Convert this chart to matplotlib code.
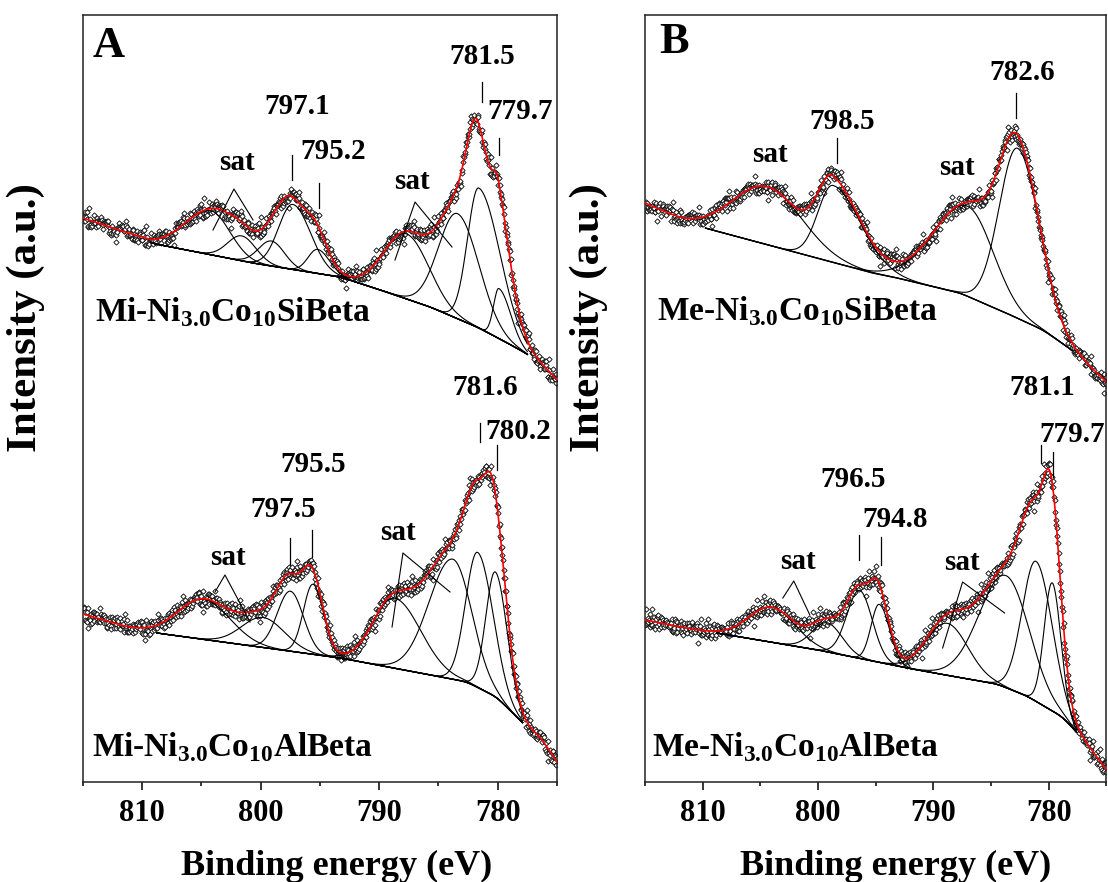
import numpy as np
import matplotlib
matplotlib.use('Agg')
import matplotlib.pyplot as plt
from matplotlib.ticker import MultipleLocator

plt.rcParams['font.family'] = 'Liberation Serif'
plt.rcParams['font.weight'] = 'bold'
plt.rcParams['mathtext.fontset'] = 'custom'
plt.rcParams['mathtext.rm'] = 'Liberation Serif:bold'
plt.rcParams['mathtext.bf'] = 'Liberation Serif:bold'

# shared scatter residuals (read as band width around the envelope)
scatter_res = [0.31, -0.72, 0.55, -0.12, 0.88, -0.47, 0.05, -0.93, 0.64, 0.22,
               -0.35, 0.79, -0.61, 0.14, -0.08, 0.97, -0.53, 0.41, -0.27, 0.66,
               -0.84, 0.19, 0.48, -0.69, 0.02, 0.73, -0.41, -0.15, 0.58, -0.98,
               0.36, 0.11, -0.57, 1.62, -0.24, 0.45, -0.76, 0.09, 0.62, -0.33,
               0.91, -0.05, -0.66, 0.27, 0.52, -0.88, 0.17, -0.44, 0.75, -1.71,
               0.39, -0.71, 0.86, -0.02, -0.59, 0.24, 0.68, -0.37, 0.12, -0.81,
               0.47, 0.03, -0.28, 0.94, -0.64, 0.33, -0.11, 0.57, -0.49, 0.81,
               -0.22, 0.06, -0.90, 0.43, 0.71, -0.31, 1.45, -0.55, 0.99, -0.17,
               0.29, -0.74, 0.51, -0.06, 0.63, -0.42, 0.21, -0.87, 0.38, 0.77,
               -0.26, 0.08, -0.63, 0.46, -0.14, 0.69, -0.51]
res_amp = 7.5

# ---------- panel A, top: Mi-Ni3.0Co10SiBeta ----------
at_bg_e = [815, 810, 809.3, 800.7, 793.3, 789.9, 785.7, 781.75, 779.5, 777.5, 776, 775]
at_bg_h = [664, 644, 639, 619, 605, 592, 575, 555, 541, 528, 514, 502]
at_pk_c = [779.9, 781.6, 783.4, 787.7, 795.2, 797.3, 799.1, 801.6, 804.2]
at_pk_h = [50, 140, 105, 65, 24, 65, 25, 25, 44]
at_pk_hi = [0.45, 0.95, 1.6, 1.9, 0.8, 1.2, 1.1, 1.2, 2.2]
at_pk_lo = [1.0, 1.8, 1.8, 1.9, 1.0, 1.5, 1.1, 1.2, 1.6]
at_fit = (777.5, 809.3)

# ---------- panel A, bottom: Mi-Ni3.0Co10AlBeta ----------
ab_bg_e = [815, 811, 808.8, 793.3, 784.3, 782.6, 780.1, 777.9, 776.4, 775]
ab_bg_h = [268, 254, 249, 224, 204, 200, 185, 159, 145, 120]
ab_pk_c = [780.2, 781.7, 783.8, 788.7, 795.6, 797.5, 799.8, 804.8]
ab_pk_h = [125, 135, 120, 70, 70, 60, 30, 40]
ab_pk_hi = [0.8, 1.0, 2.0, 1.8, 0.8, 1.1, 1.8, 2.2]
ab_pk_lo = [1.0, 1.3, 1.6, 2.2, 0.9, 1.1, 1.8, 2.2]
ab_fit = (777.9, 808.8)

# ---------- panel B, top: Me-Ni3.0Co10SiBeta ----------
bt_bg_e = [815, 811.5, 809.8, 795.3, 793.5, 787.7, 783.7, 780.5, 778, 775]
bt_bg_h = [679, 660, 654, 609, 605, 589, 569, 552, 532, 500]
bt_pk_c = [782.7, 787.0, 798.7, 804.4]
bt_pk_h = [170, 90, 77, 58]
bt_pk_hi = [1.6, 3.0, 1.3, 3.0]
bt_pk_lo = [1.9, 2.2, 2.4, 3.0]
bt_fit = (778.0, 809.8)

# ---------- panel B, bottom: Me-Ni3.0Co10AlBeta ----------
bb_bg_e = [815, 811, 808.8, 800, 792.3, 788, 784.5, 781.9, 778.8, 777.6, 776.5, 775]
bb_bg_h = [262, 253, 249, 232, 214, 205, 198, 186, 165, 150, 135, 112]
bb_pk_c = [779.7, 781.1, 783.7, 788.8, 794.7, 796.4, 799.2, 804.0]
bb_pk_h = [128, 140, 112, 52, 58, 68, 29, 35]
bb_pk_hi = [0.7, 1.2, 2.3, 1.8, 0.7, 1.1, 1.3, 2.0]
bb_pk_lo = [0.75, 1.4, 2.0, 1.8, 0.9, 1.1, 1.3, 2.0]
bb_fit = (777.6, 808.8)

# peak labels: (text, E, h)
a_labels = [("781.5", 781.33, 825), ("779.7", 778.1, 770), ("797.1", 796.94, 775),
            ("795.2", 793.9, 730), ("sat", 802.0, 719), ("sat", 787.24, 700),
            ("781.6", 781.08, 494), ("780.2", 778.29, 450), ("795.5", 795.59, 417),
            ("797.5", 798.12, 372), ("sat", 802.76, 324), ("sat", 788.42, 349)]
b_labels = [("782.6", 782.27, 809), ("798.5", 797.94, 760), ("sat", 804.18, 727),
            ("sat", 787.99, 714), ("781.1", 780.54, 494), ("779.7", 777.94, 447),
            ("796.5", 796.99, 402), ("794.8", 793.35, 362), ("sat", 801.75, 320),
            ("sat", 787.55, 319)]
# marker lines: (E, h_top, h_bottom)
a_marks = [(781.33, 800, 780), (779.9, 744, 727), (797.36, 727, 702), (795.08, 699, 674),
           (781.5, 459, 440), (780.06, 437, 412), (797.53, 344, 317), (795.68, 352, 325)]
b_marks = [(782.8, 789, 764), (798.38, 744, 719), (780.63, 437, 419), (779.59, 430, 405),
           (796.47, 347, 322), (794.57, 345, 317)]
# sat carets: (E_left, h_left, E_apex, h_apex, E_right, h_right)
a_carets = [(804.03, 652, 802.26, 693, 800.65, 662), (788.67, 622, 786.98, 680, 783.86, 635),
            (803.86, 290, 803.02, 307, 800.9, 260), (788.92, 255, 788.0, 329, 784.03, 290)]
b_carets = [(803.05, 284, 802.1, 301, 800.71, 267), (789.2, 234, 787.47, 300, 783.83, 269)]

energy = np.arange(815.0, 774.97, -0.05)


def peak(e, c, h, s_hi, s_lo):
    s = np.where(e >= c, s_hi, s_lo)
    return h * np.exp(-0.5 * ((e - c) / s) ** 2)


def smooth_bg(bg_e, bg_h, w=41):
    order = np.argsort(bg_e)
    raw = np.interp(energy, np.array(bg_e)[order], np.array(bg_h)[order])
    k = np.hanning(w)
    k = k / k.sum()
    padded = np.pad(raw, w // 2, mode='reflect', reflect_type='odd')
    return np.convolve(padded, k, mode='valid')


def spectrum(ax, bg_e, bg_h, pk_c, pk_h, pk_hi, pk_lo, fit, stride, off):
    bg = smooth_bg(bg_e, bg_h)
    comps = [peak(energy, c, h, a, b) for c, h, a, b in zip(pk_c, pk_h, pk_hi, pk_lo)]
    env = bg + np.sum(comps, axis=0)
    idx = (np.arange(len(energy)) * stride + off) % len(scatter_res)
    pts = env + res_amp * np.array(scatter_res)[idx]
    ax.plot(energy, pts, ls='none', marker='D', ms=2.7, mfc='white', mec='black',
            mew=0.6, zorder=2)
    inside = (energy >= fit[0]) & (energy <= fit[1])
    for comp in comps:
        ax.plot(energy[inside], bg[inside] + comp[inside], color='black', lw=0.8, zorder=3)
    ax.plot(energy[inside], bg[inside], color='black', lw=1.0, zorder=3)
    ax.plot(energy, env, color='red', lw=1.2, zorder=4)


fig = plt.figure(figsize=(11.08, 8.82), dpi=100)
ax_a = fig.add_axes([0.0749, 0.1134, 0.4278, 0.8696])
ax_b = fig.add_axes([0.5821, 0.1134, 0.4165, 0.8696])

spectrum(ax_a, at_bg_e, at_bg_h, at_pk_c, at_pk_h, at_pk_hi, at_pk_lo, at_fit, 13, 0)
spectrum(ax_a, ab_bg_e, ab_bg_h, ab_pk_c, ab_pk_h, ab_pk_hi, ab_pk_lo, ab_fit, 29, 11)
spectrum(ax_b, bt_bg_e, bt_bg_h, bt_pk_c, bt_pk_h, bt_pk_hi, bt_pk_lo, bt_fit, 41, 5)
spectrum(ax_b, bb_bg_e, bb_bg_h, bb_pk_c, bb_pk_h, bb_pk_hi, bb_pk_lo, bb_fit, 53, 23)

for ax, labels, marks, carets in [(ax_a, a_labels, a_marks, a_carets),
                                  (ax_b, b_labels, b_marks, b_carets)]:
    for txt, e, h in labels:
        ax.text(e, h, txt, ha='center', va='center', fontsize=21, fontweight='bold',
                clip_on=False, zorder=5)
    for e, h0, h1 in marks:
        ax.plot([e, e], [h0, h1], color='black', lw=0.9, zorder=5)
    for el, hl, ea, ha, er, hr in carets:
        ax.plot([el, ea, er], [hl, ha, hr], color='black', lw=0.8, zorder=5)

    ax.set_xlim(815, 775)
    ax.set_ylim(100, 867)
    ax.xaxis.set_major_locator(MultipleLocator(10))
    ax.xaxis.set_minor_locator(MultipleLocator(5))
    ax.tick_params(axis='x', which='major', direction='out', length=6, width=1.1,
                   labelsize=22, pad=6)
    ax.tick_params(axis='x', which='minor', direction='out', length=3, width=1.1)
    ax.tick_params(axis='y', left=False, labelleft=False)
    for sp in ax.spines.values():
        sp.set_linewidth(1.1)
        sp.set_edgecolor('#222222')
    ax.set_xlabel('Binding energy (eV)', fontsize=26, fontweight='bold')
    ax.set_ylabel('Intensity (a.u.)', fontsize=31, fontweight='bold')
    ax.yaxis.set_label_coords(-0.08, 0.605)

ax_a.xaxis.set_label_coords(0.536, -0.089)
ax_b.xaxis.set_label_coords(0.543, -0.089)

ax_a.text(0.021, 0.945, 'A', transform=ax_a.transAxes, fontsize=32, fontweight='bold')
ax_b.text(0.032, 0.950, 'B', transform=ax_b.transAxes, fontsize=32, fontweight='bold')
ax_a.text(0.025, 0.601, r'Mi-Ni$_{\mathbf{3.0}}$Co$_{\mathbf{10}}$SiBeta',
          transform=ax_a.transAxes, fontsize=24, fontweight='bold')
ax_a.text(0.019, 0.033, r'Mi-Ni$_{\mathbf{3.0}}$Co$_{\mathbf{10}}$AlBeta',
          transform=ax_a.transAxes, fontsize=24, fontweight='bold')
ax_b.text(0.026, 0.602, r'Me-Ni$_{\mathbf{3.0}}$Co$_{\mathbf{10}}$SiBeta',
          transform=ax_b.transAxes, fontsize=24, fontweight='bold')
ax_b.text(0.015, 0.033, r'Me-Ni$_{\mathbf{3.0}}$Co$_{\mathbf{10}}$AlBeta',
          transform=ax_b.transAxes, fontsize=24, fontweight='bold')

fig.savefig('out.png', dpi=100)
